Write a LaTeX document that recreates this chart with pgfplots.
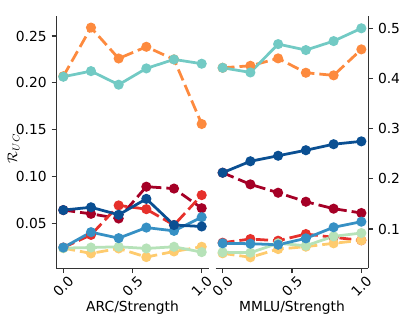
\documentclass[border=0pt]{standalone}
\usepackage{fontspec}
\setmainfont{DejaVu Sans}
\usepackage{pgfplots}
\usepackage{pgfplotstable}
\pgfplotsset{compat=1.18}

\definecolor{dred}{HTML}{A50026}
\definecolor{cred}{HTML}{E6302B}
\definecolor{corange}{HTML}{FD8A3E}
\definecolor{lorange}{HTML}{FECB6E}
\definecolor{cteal}{HTML}{72CAC4}
\definecolor{lgreen}{HTML}{B6E2B8}
\definecolor{mblue}{HTML}{3690C4}
\definecolor{dblue}{HTML}{0A4F92}

% ARC
\pgfplotstableread{
x   dred   red    orange lorange teal   lgreen mblue  dblue
0.0 0.064  0.024  0.207  0.0234  0.2065 0.0234 0.024  0.064
0.2 0.060  0.0375 0.259  0.0177  0.2125 0.024  0.0404 0.067
0.4 0.055  0.069  0.226  0.023   0.198  0.0248 0.034  0.059
0.6 0.089  0.065  0.2385 0.0138  0.2154 0.023  0.0453 0.076
0.8 0.087  0.048  0.225  0.0198  0.225  0.0248 0.0418 0.048
1.0 0.066  0.080  0.156  0.0248  0.2204 0.0191 0.0564 0.0465
}\arcdata

% MMLU
\pgfplotstableread{
x   dred   red    orange lorange teal   lgreen mblue  dblue
0.0 0.2122 0.0727 0.4213 0.0516  0.4213 0.0536 0.0715 0.2122
0.2 0.189  0.080  0.4253 0.0436  0.412  0.0528 0.0707 0.235
0.4 0.1723 0.0767 0.440  0.060   0.4685 0.0715 0.0687 0.246
0.6 0.1544 0.090  0.4114 0.0648  0.4566 0.0667 0.0814 0.257
0.8 0.1405 0.0834 0.4062 0.0715  0.4745 0.0854 0.1034 0.269
1.0 0.1319 0.0775 0.458  0.0775  0.500  0.092  0.1146 0.2747
}\mmludata

\pgfplotsset{
  panel/.style={
    scale only axis,
    width=1.522in, height=2.523in,
    xmin=-0.05, xmax=1.05,
    xtick={0,0.5,1},
    xticklabels={0.0,0.5,1.0},
    % shift in the rotated frame so the centre ends straight below the tick
    xticklabel style={rotate=45, anchor=center, xshift=-6.8pt, yshift=-6.8pt},
    axis x line*=bottom,
    axis line style={-, black!80, line width=0.8pt},
    tick style={black!80, line width=0.8pt},
    tick align=outside,
    major tick length=3.5pt,
    /pgf/number format/assume math mode=true,
    ticklabel style={font=\fontsize{10}{12}\selectfont},
    label style={font=\fontsize{10}{12}\selectfont},
    xlabel style={at={(axis description cs:0.5,0)}, anchor=center, yshift=-28.5pt},
    every axis plot/.append style={line width=2pt, mark=*, mark size=2.6pt},
  },
  dsh/.style={dash pattern=on 8.6pt off 3.6pt},
}

\begin{document}
\begin{tikzpicture}
\useasboundingbox (-0.564in,-0.577in) rectangle (3.506in,2.683in);

\begin{axis}[panel,
  at={(0,0)}, anchor=south west,
  ymin=0.0018, ymax=0.2714,
  ytick={0.05,0.10,0.15,0.20,0.25},
  yticklabel style={/pgf/number format/.cd, fixed, fixed zerofill, precision=2},
  axis y line*=left,
  xlabel={ARC/Strength},
  ylabel={$\mathcal{R}_{UC}$},
  ylabel style={at={(axis description cs:0,0.476)}, anchor=center, yshift=31pt},
]
\addplot[dred, dsh, mark options={solid}] table[y=dred] {\arcdata};
\addplot[cred, dsh, mark options={solid}] table[y=red] {\arcdata};
\addplot[corange, dsh, mark options={solid}] table[y=orange] {\arcdata};
\addplot[lorange, dsh, mark options={solid}] table[y=lorange] {\arcdata};
\addplot[cteal] table[y=teal] {\arcdata};
\addplot[lgreen] table[y=lgreen] {\arcdata};
\addplot[mblue] table[y=mblue] {\arcdata};
\addplot[dblue] table[y=dblue] {\arcdata};
\end{axis}

\begin{axis}[panel,
  at={(1.593in,0)}, anchor=south west,
  width=1.526in,
  ymin=0.0217, ymax=0.5245,
  ytick={0.1,0.2,0.3,0.4,0.5},
  yticklabel style={/pgf/number format/.cd, fixed, fixed zerofill, precision=1},
  axis y line*=right,
  xlabel={MMLU/Strength},
]
\addplot[dred, dsh, mark options={solid}] table[y=dred] {\mmludata};
\addplot[cred, dsh, mark options={solid}] table[y=red] {\mmludata};
\addplot[corange, dsh, mark options={solid}] table[y=orange] {\mmludata};
\addplot[lorange, dsh, mark options={solid}] table[y=lorange] {\mmludata};
\addplot[cteal] table[y=teal] {\mmludata};
\addplot[lgreen] table[y=lgreen] {\mmludata};
\addplot[mblue] table[y=mblue] {\mmludata};
\addplot[dblue] table[y=dblue] {\mmludata};
\end{axis}
\end{tikzpicture}
\end{document}
